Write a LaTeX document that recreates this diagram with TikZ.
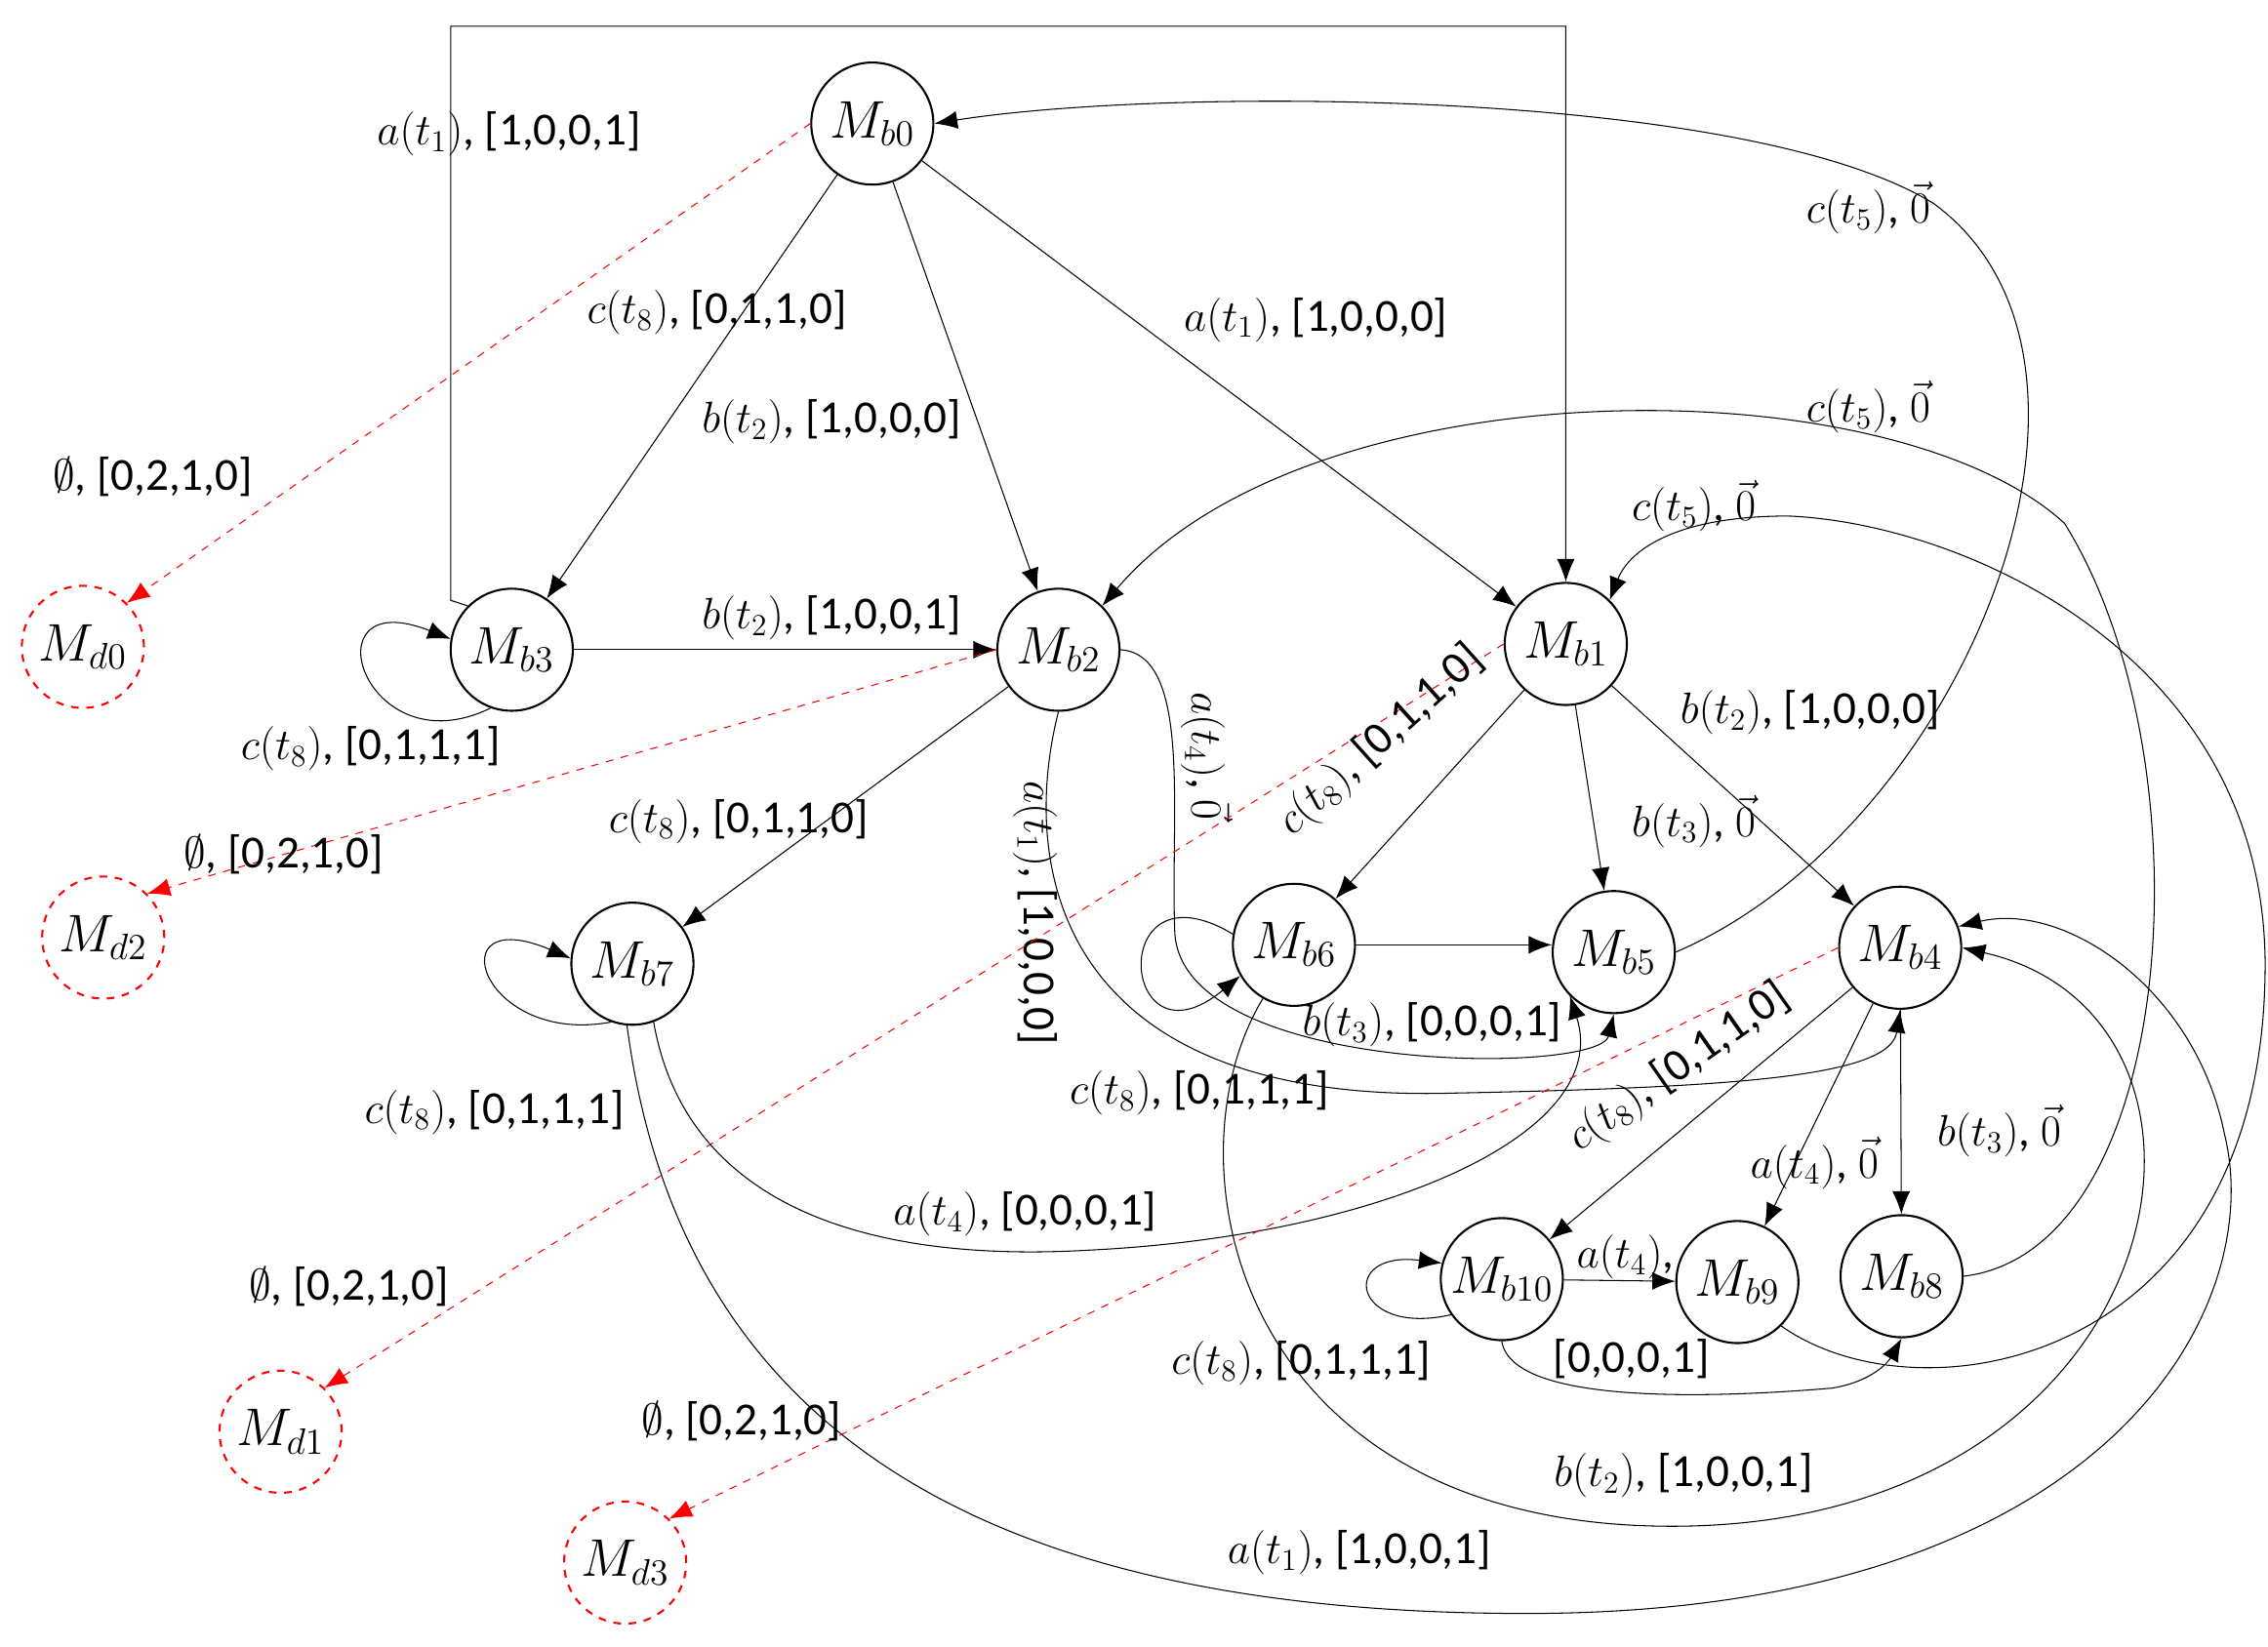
\documentclass[tikz,border=0pt]{standalone}
\usepackage{fontspec}
\setmainfont{Carlito}
\usetikzlibrary{arrows.meta}
\begin{document}
\begin{tikzpicture}[x=0.02cm,y=-0.02cm,
  st/.style={circle,draw,thick,minimum size=1.68cm,inner sep=0pt,font=\fontsize{20}{22}\selectfont},
  dst/.style={st,draw=red,dashed},
  ar/.style={-{Latex[length=9pt,width=7pt]},thin},
  rd/.style={-{Latex[length=9pt,width=7pt]},red,dashed},
  lb/.style={font=\fontsize{18}{20}\selectfont,inner sep=1pt}]
\useasboundingbox (0,0) rectangle (1560,1133);
\node[st] (b0) at (600,85) {$M_{b0}$};
\node[st] (b3) at (352,447) {$M_{b3}$};
\node[st] (b2) at (728,447) {$M_{b2}$};
\node[st] (b1) at (1077,443) {$M_{b1}$};
\node[st] (b7) at (435,663) {$M_{b7}$};
\node[st] (b6) at (890,650) {$M_{b6}$};
\node[st] (b5) at (1110,655) {$M_{b5}$};
\node[st] (b4) at (1307,652) {$M_{b4}$};
\node[st] (b10) at (1033,880) {$M_{b10}$};
\node[st] (b9) at (1195,882) {$M_{b9}$};
\node[st] (b8) at (1308,878) {$M_{b8}$};
\node[dst] (d0) at (57,445) {$M_{d0}$};
\node[dst] (d2) at (71,645) {$M_{d2}$};
\node[dst] (d1) at (193,985) {$M_{d1}$};
\node[dst] (d3) at (430,1075) {$M_{d3}$};
% top bracket
\coordinate (c1) at (310,413); \coordinate (c2) at (310,18); \coordinate (c3) at (1077,18);
\draw[ar] (b3.north west) -- (c1) -- (c2) -- (c3) -- (b1.north);
\node[lb] at (350,92) {$a(t_1)$, [1,0,0,1]};
\draw[ar] (b0) -- (b3); \node[lb] at (493,215) {$c(t_8)$, [0,1,1,0]};
\draw[ar] (b0) -- (b2); \node[lb] at (572,290) {$b(t_2)$, [1,0,0,0]};
\draw[ar] (b0) -- (b1); \node[lb] at (905,220) {$a(t_1)$, [1,0,0,0]};
\draw[rd] (b0.west) -- (d0.north east); \node[lb] at (105,328) {$\emptyset$, [0,2,1,0]};
\draw[ar] (b3.250) .. controls (250,530) and (210,400) .. (b3.170);
\node[lb] at (255,515) {$c(t_8)$, [0,1,1,1]};
\draw[ar] (b3) -- (b2); \node[lb] at (572,425) {$b(t_2)$, [1,0,0,1]};
\draw[rd] (b2.west) -- (d2.north east); \node[lb] at (195,588) {$\emptyset$, [0,2,1,0]};
\draw[ar] (b2) -- (b7); \node[lb] at (508,565) {$c(t_8)$, [0,1,1,0]};
\draw[ar] (b2.south) .. controls (700,600) and (730,760) .. (1000,752) .. controls (1200,748) and (1300,740) .. (b4.south);
\node[lb,rotate=-90] at (712,628) {$a(t_1)$, [1,0,0,0]};
\draw[ar] (b2.east) .. controls (820,450) and (805,560) .. (808,640) .. controls (810,740) and (1100,740) .. (b5.south);
\node[lb,rotate=-90] at (830,520) {$a(t_4)$, $\vec{0}$};
\draw[rd] (b1.west) -- (d1.north east); \node[lb] at (240,885) {$\emptyset$, [0,2,1,0]};
\draw[ar] (b1) -- (b6); \node[lb,rotate=42] at (950,510) {$c(t_8)$, [0,1,1,0]};
\draw[ar] (b1) -- (b5); \node[lb] at (1165,565) {$b(t_3)$, $\vec{0}$};
\draw[ar] (b1) -- (b4); \node[lb] at (1245,490) {$b(t_2)$, [1,0,0,0]};
\draw[ar] (b5.east) .. controls (1350,570) and (1480,250) .. (1330,140) .. controls (1200,60) and (800,60) .. (b0.east);
\node[lb] at (1285,143) {$c(t_5)$, $\vec{0}$};
\draw[ar] (b8.east) .. controls (1500,860) and (1520,520) .. (1420,360) .. controls (1300,250) and (900,250) .. (b2.north east);
\node[lb] at (1285,280) {$c(t_5)$, $\vec{0}$};
\draw[ar] (b9.south east) .. controls (1320,980) and (1560,940) .. (1558,660) .. controls (1555,450) and (1350,360) .. (1230,355) .. controls (1150,355) and (1120,380) .. (b1.north east);
\node[lb] at (1165,348) {$c(t_5)$, $\vec{0}$};
\draw[ar] (b6.170) .. controls (760,590) and (770,740) .. (b6.210);
\draw[ar] (b6.east) -- (b5.west |- b6.east);
\node[lb] at (985,705) {$b(t_3)$, [0,0,0,1]};
\node[lb] at (825,752) {$c(t_8)$, [0,1,1,1]};
\draw[ar] (b6.240) .. controls (800,800) and (850,1050) .. (1150,1050) .. controls (1500,1050) and (1560,700) .. (b4.east);
\node[lb] at (1158,1015) {$b(t_2)$, [1,0,0,1]};
\draw[ar] (b7.250) .. controls (330,720) and (300,620) .. (b7.175);
\node[lb] at (340,765) {$c(t_8)$, [0,1,1,1]};
\draw[ar] (b7.290) .. controls (470,820) and (580,870) .. (750,860) .. controls (950,850) and (1110,780) .. (b5.south west);
\node[lb] at (705,835) {$a(t_4)$, [0,0,0,1]};
\draw[ar] (b7.265) .. controls (470,1000) and (700,1110) .. (1050,1110) .. controls (1450,1110) and (1560,900) .. (1530,780) .. controls (1510,680) and (1420,620) .. (b4.20);
\node[lb] at (935,1068) {$a(t_1)$, [1,0,0,1]};
\draw[rd] (b4.west) -- (d3.north east); \node[lb] at (510,978) {$\emptyset$, [0,2,1,0]};
\draw[ar] (b4) -- (b10); \node[lb,rotate=35] at (1155,735) {$c(t_8)$, [0,1,1,0]};
\draw[ar] (b4) -- (b9); \node[lb] at (1248,800) {$a(t_4)$, $\vec{0}$};
\draw[ar] (b4) -- (b8); \node[lb] at (1375,778) {$b(t_3)$, $\vec{0}$};
\draw[ar] (b10.215) .. controls (930,920) and (920,860) .. (b10.165);
\node[lb] at (895,938) {$c(t_8)$, [0,1,1,1]};
\draw[ar] (b10) -- (b9); \node[lb] at (1118,865) {$a(t_4)$,};
\node[lb] at (1122,935) {[0,0,0,1]};
\draw[ar] (b10.south) .. controls (1040,970) and (1200,960) .. (1260,955) .. controls (1290,950) and (1300,935) .. (b8.south);
\end{tikzpicture}
\end{document}
